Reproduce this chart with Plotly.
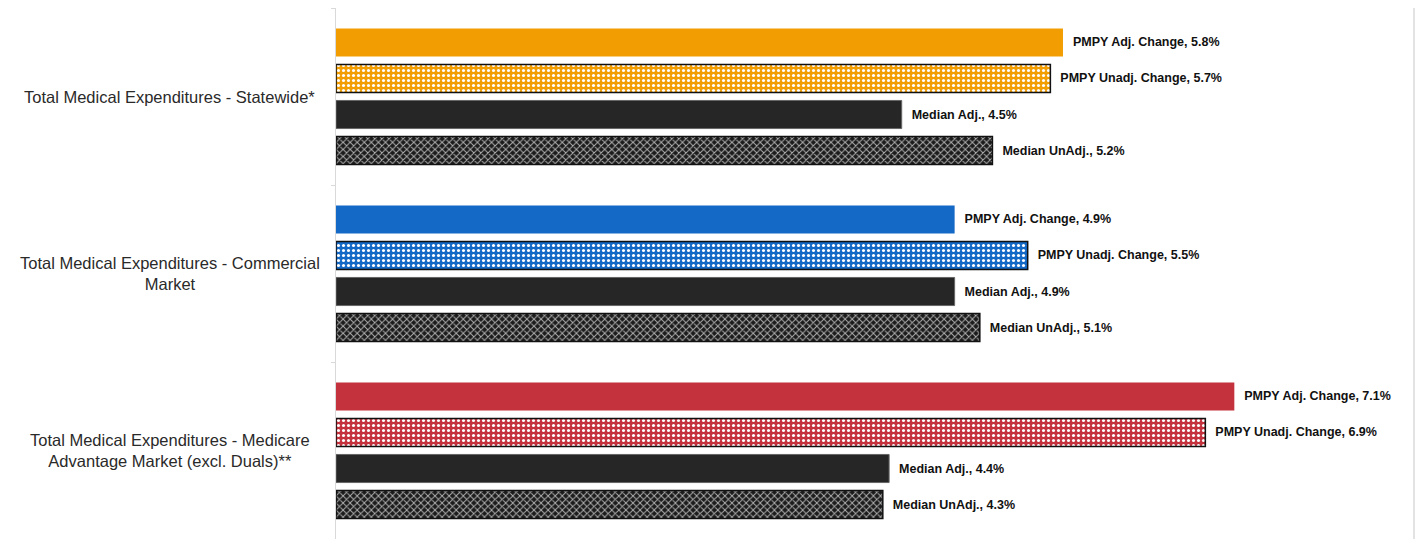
import plotly.graph_objects as go

categories = [
    "Total Medical Expenditures - Statewide*",
    "Total Medical Expenditures - Commercial<br>Market",
    "Total Medical Expenditures - Medicare<br>Advantage Market (excl. Duals)**",
]
series_names = ["PMPY Adj. Change", "PMPY Unadj. Change", "Median Adj.", "Median UnAdj."]
pmpy_adj = [5.77, 4.91, 7.13]
pmpy_unadj = [5.67, 5.49, 6.90]
median_adj = [4.49, 4.91, 4.39]
median_unadj = [5.21, 5.11, 4.34]
pmpy_adj_lbl = [5.8, 4.9, 7.1]
pmpy_unadj_lbl = [5.7, 5.5, 6.9]
median_adj_lbl = [4.5, 4.9, 4.4]
median_unadj_lbl = [5.2, 5.1, 4.3]

cat_colors = ["#F29E02", "#1468C6", "#C3323D"]

ykeys = ["Statewide", "Commercial", "Medicare"]
label_font = dict(family="Liberation Sans, Arial, sans-serif", size=12.5, color="#111111")

fig = go.Figure()

def add(ys, vals, lbls, name, marker, group):
    fig.add_trace(go.Bar(
        y=ys, x=vals, orientation="h", name=name, offsetgroup=group,
        text=[f"\u00a0\u00a0<b>{name}, {v:.1f}%</b>" for v in lbls],
        textposition="outside", textfont=label_font,
        cliponaxis=False, marker=marker, showlegend=False,
        hoverinfo="skip",
    ))

add(ykeys, pmpy_adj, pmpy_adj_lbl, series_names[0], dict(color=cat_colors, line=dict(width=0)), "g0")
for i, k in enumerate(ykeys):
    add([k], [pmpy_unadj[i]], [pmpy_unadj_lbl[i]], series_names[1], dict(
        color=cat_colors[i], line=dict(color="#111111", width=1.5),
        pattern=dict(shape=".", fgcolor="#ffffff", bgcolor=cat_colors[i], fgopacity=1,
                     size=5, solidity=0.3, fillmode="overlay")), "g1")
add(ykeys, median_adj, median_adj_lbl, series_names[2], dict(color="#262626", line=dict(color="#666666", width=1)), "g2")
add(ykeys, median_unadj, median_unadj_lbl, series_names[3], dict(
    color="#1c1c1c", line=dict(color="#111111", width=1.5),
    pattern=dict(shape="x", fgcolor="#b0b0b0", fgopacity=1, size=5, solidity=0.35, fillmode="overlay")), "g3")

x_max = 8.556
fig.update_layout(
    width=1428, height=539,
    margin=dict(l=336, r=14, t=8, b=0),
    paper_bgcolor="white", plot_bgcolor="white",
    barmode="group", bargap=0.186, bargroupgap=0.22,
    xaxis=dict(range=[0, x_max], visible=False, fixedrange=True),
    yaxis=dict(autorange="reversed", showticklabels=False, showline=True,
               linecolor="#d9d9d9", linewidth=1, ticks="outside", tickson="boundaries",
               ticklen=4, tickcolor="#d9d9d9", showgrid=False, zeroline=False,
               categoryorder="array", categoryarray=ykeys),
    font=dict(family="Liberation Sans, Arial, sans-serif"),
)

for i, c in enumerate(categories):
    fig.add_annotation(
        x=-0.154, xref="paper", y=ykeys[i], yref="y", text=c, showarrow=False,
        xanchor="center", yanchor="middle", align="center",
        font=dict(family="Liberation Sans, Arial, sans-serif", size=16.5, color="#2a2a2a"),
    )

fig.add_shape(type="line", xref="paper", yref="paper", x0=1, x1=1, y0=0, y1=1,
              line=dict(color="#e3e3e3", width=2))

fig.write_html("out.html")
